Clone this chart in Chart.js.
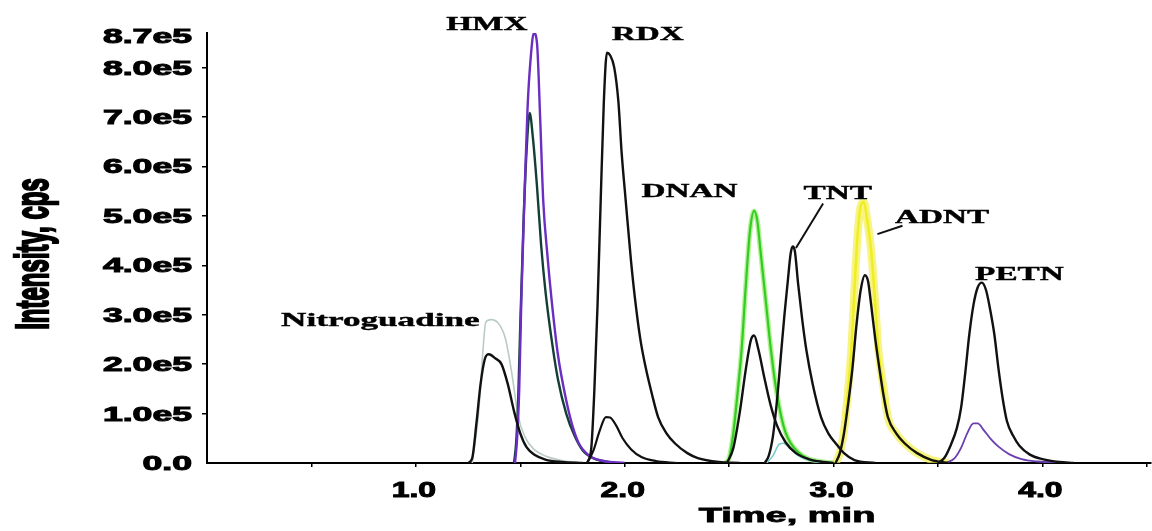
<!DOCTYPE html>
<html>
<head>
<meta charset="utf-8">
<script src="https://cdn.jsdelivr.net/npm/chart.js@4.4.1/dist/chart.umd.min.js"></script>
<style>
  html, body { margin: 0; padding: 0; background: #ffffff; }
  #wrap { width: 1152px; height: 531px; }
</style>
</head>
<body>
<div id="wrap"><canvas id="c" width="1152" height="531"></canvas></div>
<script>
// ---- Axis ticks ----
const xTickValues = [1.0, 2.0, 3.0, 4.0];
const xTickLabels = ['1.0', '2.0', '3.0', '4.0'];
const yTickValues = [0, 1e5, 2e5, 3e5, 4e5, 5e5, 6e5, 7e5, 8e5, 8.7e5];
const yTickLabels = ['0.0', '1.0e5', '2.0e5', '3.0e5', '4.0e5', '5.0e5', '6.0e5', '7.0e5', '8.0e5', '8.7e5'];

// ---- Peak labels ----
const peakNames = ['Nitroguadine', 'HMX', 'RDX', 'DNAN', 'TNT', 'ADNT', 'PETN'];
const peakLabelTime = [0.83, 1.34, 2.11, 2.31, 3.02, 3.52, 3.89];
const peakLabelIntensity = [2.78e5, 8.77e5, 8.55e5, 5.38e5, 5.35e5, 4.86e5, 3.7e5];

// ---- Traces (time in min, intensity in cps) ----
const nitroBlackT = [1.25, 1.27, 1.29, 1.31, 1.33, 1.35, 1.38, 1.41, 1.44, 1.47, 1.50, 1.53, 1.57, 1.62, 1.70, 1.80];
const nitroBlackI = [0, 0.1e5, 0.8e5, 1.6e5, 2.1e5, 2.2e5, 2.12e5, 2.0e5, 1.6e5, 1.05e5, 0.6e5, 0.32e5, 0.16e5, 0.07e5, 0.02e5, 0];

const nitroGrayT = [1.27, 1.30, 1.32, 1.335, 1.36, 1.40, 1.43, 1.46, 1.49, 1.52, 1.56, 1.62, 1.70, 1.80];
const nitroGrayI = [0, 1.0e5, 2.2e5, 2.85e5, 2.9e5, 2.8e5, 2.5e5, 1.8e5, 0.95e5, 0.55e5, 0.3e5, 0.14e5, 0.05e5, 0];

const hmxPurpleT = [1.475, 1.485, 1.495, 1.505, 1.52, 1.535, 1.55, 1.565, 1.58, 1.595, 1.61, 1.63, 1.65, 1.68, 1.72, 1.75, 1.78, 1.83, 1.90, 2.00];
const hmxPurpleI = [0, 0.5e5, 1.5e5, 3.3e5, 5.4e5, 7.2e5, 8.2e5, 8.7e5, 8.5e5, 7.0e5, 5.3e5, 4.2e5, 3.3e5, 2.2e5, 1.27e5, 0.75e5, 0.4e5, 0.15e5, 0.04e5, 0];

const hmxTealT = [1.47, 1.48, 1.49, 1.50, 1.515, 1.53, 1.545, 1.56, 1.58, 1.60, 1.62, 1.65, 1.68, 1.72, 1.76, 1.80, 1.86, 1.95];
const hmxTealI = [0, 0.4e5, 1.3e5, 2.8e5, 4.8e5, 6.3e5, 7.08e5, 6.6e5, 5.6e5, 4.4e5, 3.5e5, 2.5e5, 1.7e5, 1.0e5, 0.55e5, 0.25e5, 0.08e5, 0];

const rdxBlackT = [1.82, 1.84, 1.855, 1.87, 1.885, 1.90, 1.915, 1.93, 1.95, 1.97, 1.985, 2.005, 2.03, 2.05, 2.075, 2.10, 2.13, 2.16, 2.20, 2.24, 2.30, 2.35, 2.45, 2.55];
const rdxBlackI = [0, 0.3e5, 1.5e5, 3.2e5, 5.3e5, 7.3e5, 8.3e5, 8.25e5, 8.0e5, 7.3e5, 6.3e5, 5.3e5, 4.1e5, 3.3e5, 2.5e5, 1.94e5, 1.4e5, 0.93e5, 0.6e5, 0.4e5, 0.2e5, 0.1e5, 0.02e5, 0];

const rdxSmallT = [1.82, 1.85, 1.88, 1.91, 1.93, 1.96, 1.99, 2.03, 2.08, 2.15, 2.25];
const rdxSmallI = [0, 0.25e5, 0.65e5, 0.93e5, 0.92e5, 0.75e5, 0.5e5, 0.28e5, 0.12e5, 0.04e5, 0];

const dnanGreenT = [2.48, 2.50, 2.52, 2.54, 2.56, 2.58, 2.60, 2.62, 2.635, 2.65, 2.675, 2.70, 2.725, 2.75, 2.77, 2.795, 2.83, 2.87, 2.92, 3.00];
const dnanGreenI = [0, 0.1e5, 0.6e5, 1.4e5, 2.3e5, 3.6e5, 4.7e5, 5.1e5, 4.9e5, 4.3e5, 3.3e5, 2.3e5, 1.5e5, 0.93e5, 0.62e5, 0.4e5, 0.22e5, 0.1e5, 0.04e5, 0];

const dnanBlackT = [2.49, 2.52, 2.55, 2.58, 2.605, 2.62, 2.64, 2.67, 2.70, 2.73, 2.77, 2.82, 2.88, 2.95, 3.00];
const dnanBlackI = [0, 0.3e5, 1.0e5, 1.9e5, 2.5e5, 2.58e5, 2.3e5, 1.7e5, 1.15e5, 0.75e5, 0.42e5, 0.2e5, 0.08e5, 0.02e5, 0];

const cyanT = [2.68, 2.71, 2.74, 2.76, 2.79, 2.83, 2.88, 2.95];
const cyanI = [0, 0.15e5, 0.38e5, 0.4e5, 0.3e5, 0.15e5, 0.06e5, 0];

const tntBlackT = [2.67, 2.69, 2.71, 2.73, 2.75, 2.765, 2.78, 2.795, 2.805, 2.815, 2.83, 2.85, 2.87, 2.90, 2.94, 2.975, 3.01, 3.05, 3.10, 3.20];
const tntBlackI = [0, 0.15e5, 0.55e5, 1.3e5, 2.28e5, 3.0e5, 3.64e5, 4.25e5, 4.38e5, 4.28e5, 3.64e5, 2.9e5, 2.28e5, 1.6e5, 0.93e5, 0.6e5, 0.4e5, 0.2e5, 0.06e5, 0];

const adntYellowT = [3.01, 3.03, 3.05, 3.07, 3.085, 3.10, 3.115, 3.13, 3.145, 3.16, 3.18, 3.20, 3.215, 3.24, 3.26, 3.30, 3.34, 3.40, 3.47, 3.55];
const adntYellowI = [0, 0.2e5, 0.65e5, 1.5e5, 2.28e5, 3.5e5, 4.6e5, 5.2e5, 5.28e5, 4.95e5, 4.3e5, 3.2e5, 2.28e5, 1.5e5, 0.93e5, 0.6e5, 0.4e5, 0.2e5, 0.06e5, 0];

const adntBlackT = [3.01, 3.03, 3.05, 3.07, 3.09, 3.11, 3.13, 3.15, 3.165, 3.18, 3.20, 3.22, 3.24, 3.26, 3.30, 3.34, 3.40, 3.47, 3.55];
const adntBlackI = [0, 0.2e5, 0.6e5, 1.2e5, 1.9e5, 2.8e5, 3.5e5, 3.8e5, 3.68e5, 3.2e5, 2.5e5, 1.9e5, 1.35e5, 0.93e5, 0.6e5, 0.4e5, 0.2e5, 0.06e5, 0];

const petnBlackT = [3.50, 3.53, 3.56, 3.59, 3.61, 3.63, 3.65, 3.67, 3.69, 3.71, 3.73, 3.75, 3.77, 3.79, 3.81, 3.83, 3.86, 3.89, 3.94, 4.00, 4.08, 4.15];
const petnBlackI = [0, 0.1e5, 0.35e5, 0.7e5, 1.1e5, 1.8e5, 2.6e5, 3.2e5, 3.55e5, 3.65e5, 3.5e5, 3.1e5, 2.6e5, 1.9e5, 1.3e5, 0.85e5, 0.55e5, 0.35e5, 0.17e5, 0.08e5, 0.02e5, 0];

const petnPurpleT = [3.54, 3.58, 3.61, 3.64, 3.67, 3.69, 3.72, 3.75, 3.79, 3.84, 3.90, 3.98, 4.10];
const petnPurpleI = [0, 0.1e5, 0.3e5, 0.6e5, 0.8e5, 0.8e5, 0.66e5, 0.5e5, 0.33e5, 0.18e5, 0.08e5, 0.03e5, 0];

function pts(t, v) { return t.map((x, i) => ({ x: x, y: v[i] })); }

function ds(t, v, color, width, order) {
  return {
    data: pts(t, v), borderColor: color, borderWidth: width, order: order,
    pointRadius: 0, fill: false, cubicInterpolationMode: 'monotone', tension: 0.3
  };
}

const datasets = [
  ds(adntYellowT, adntYellowI, 'rgba(244,240,80,0.7)', 8, 30),
  ds(adntYellowT, adntYellowI, '#eeee22', 2.5, 29),
  ds(dnanGreenT, dnanGreenI, 'rgba(150,235,110,0.7)', 5, 28),
  ds(dnanGreenT, dnanGreenI, '#33cc22', 2.2, 27),
  ds(nitroGrayT, nitroGrayI, '#b9cbc4', 1.6, 26),
  ds(cyanT, cyanI, '#77cccc', 1.6, 25),
  ds(hmxTealT, hmxTealI, '#143f36', 2.4, 24),
  ds(hmxPurpleT, hmxPurpleI, '#6a2fc0', 2.4, 23),
  ds(petnPurpleT, petnPurpleI, '#6a3fb0', 1.8, 22),
  ds(nitroBlackT, nitroBlackI, '#111111', 2.4, 10),
  ds(rdxBlackT, rdxBlackI, '#111111', 2.4, 10),
  ds(rdxSmallT, rdxSmallI, '#111111', 2.2, 10),
  ds(dnanBlackT, dnanBlackI, '#111111', 2.4, 10),
  ds(tntBlackT, tntBlackI, '#111111', 2.4, 10),
  ds(adntBlackT, adntBlackI, '#111111', 2.4, 10),
  ds(petnBlackT, petnBlackI, '#111111', 2.4, 10)
];

function stretchText(ctx, text, x, y, o) {
  ctx.save();
  ctx.font = o.font;
  ctx.fillStyle = '#000';
  ctx.strokeStyle = '#000';
  ctx.textAlign = o.align || 'center';
  ctx.textBaseline = o.baseline || 'alphabetic';
  ctx.translate(x, y);
  ctx.scale(o.sx, 1);
  if (o.rotate) ctx.rotate(o.rotate);
  ctx.fillText(text, 0, 0);
  if (o.stroke) { ctx.lineWidth = o.stroke; ctx.strokeText(text, 0, 0); }
  ctx.restore();
}

const textPlugin = {
  id: 'textPlugin',
  afterDraw(chart) {
    const ctx = chart.ctx;
    const xs = chart.scales.x, ys = chart.scales.y;
    // y tick labels
    yTickValues.forEach((v, i) => {
      stretchText(ctx, yTickLabels[i], 192, ys.getPixelForValue(v) + 7 + (i === yTickValues.length - 1 ? 3 : 0),
        { font: 'bold 20px "Liberation Sans"', sx: 1.78, align: 'right', stroke: 1.0 });
    });
    // x tick labels
    xTickValues.forEach((v, i) => {
      stretchText(ctx, xTickLabels[i], xs.getPixelForValue(v) - 2, 497,
        { font: 'bold 22px "Liberation Sans"', sx: 1.45, align: 'center', stroke: 1.0 });
    });
    // axis titles
    stretchText(ctx, 'Time, min', 787, 522,
      { font: 'bold 20px "Liberation Sans"', sx: 1.9, align: 'center', stroke: 0.8 });
    stretchText(ctx, 'Intensity, cps', 48, 254,
      { font: 'bold 24px "Liberation Sans"', sx: 1.9, align: 'center', rotate: -Math.PI / 2, stroke: 1.3 });
    // peak labels
    peakNames.forEach((n, i) => {
      stretchText(ctx, n, xs.getPixelForValue(peakLabelTime[i]), ys.getPixelForValue(peakLabelIntensity[i]),
        { font: 'bold 19px "Liberation Serif"', sx: i === 0 ? 1.85 : 1.75, align: 'center', stroke: 0.4 });
    });
    // leader lines
    ctx.save();
    ctx.strokeStyle = '#111';
    ctx.lineWidth = 2;
    ctx.beginPath();
    ctx.moveTo(xs.getPixelForValue(2.95), ys.getPixelForValue(5.25e5));
    ctx.lineTo(xs.getPixelForValue(2.82), ys.getPixelForValue(4.35e5));
    ctx.moveTo(xs.getPixelForValue(3.33), ys.getPixelForValue(4.8e5));
    ctx.lineTo(xs.getPixelForValue(3.21), ys.getPixelForValue(4.63e5));
    ctx.stroke();
    ctx.restore();
  }
};

new Chart(document.getElementById('c'), {
  type: 'line',
  data: { datasets: datasets },
  options: {
    responsive: false,
    animation: false,
    devicePixelRatio: 1,
    layout: { padding: { left: 0, right: 1, top: 33, bottom: 0 } },
    plugins: { legend: { display: false }, tooltip: { enabled: false } },
    scales: {
      x: {
        type: 'linear', min: 0, max: 4.52,
        afterBuildTicks(s) { s.ticks = [0.5, 1, 1.5, 2, 2.5, 3, 3.5, 4, 4.5].map(v => ({ value: v })); },
        afterFit(s) { s.height = 68; },
        ticks: { display: false },
        grid: { display: true, drawOnChartArea: false, drawTicks: true, tickLength: 4, color: '#000', lineWidth: 1.5 },
        border: { display: true, color: '#000', width: 2 }
      },
      y: {
        type: 'linear', min: 0, max: 8.7e5,
        afterBuildTicks(s) { s.ticks = [1e5, 2e5, 3e5, 4e5, 5e5, 6e5, 7e5, 8e5].map(v => ({ value: v })); },
        afterFit(s) { s.width = 207; },
        ticks: { display: false },
        grid: { display: true, drawOnChartArea: false, drawTicks: true, tickLength: 5, color: '#000', lineWidth: 1.5 },
        border: { display: true, color: '#000', width: 2 }
      }
    }
  },
  plugins: [textPlugin]
});
</script>
</body>
</html>
